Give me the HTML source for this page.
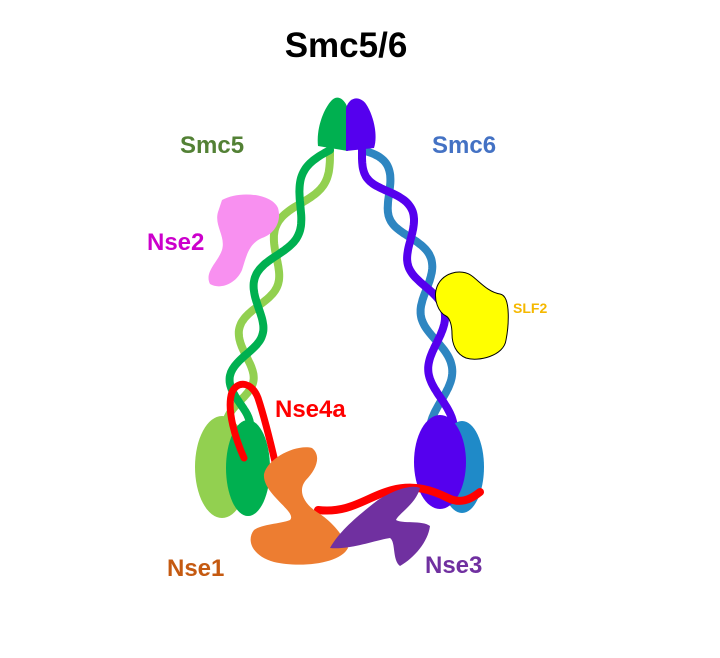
<!DOCTYPE html>
<html><head><meta charset="utf-8"><style>
html,body{margin:0;padding:0;background:#fff;}
svg{display:block;}
text{font-family:"Liberation Sans",Arial,sans-serif;font-weight:bold;}
</style></head><body>
<svg id="s" width="720" height="658" viewBox="0 0 720 658" xmlns="http://www.w3.org/2000/svg">
<rect width="720" height="658" fill="#fff"/>
<text x="346" y="57" font-size="35" text-anchor="middle" fill="#000">Smc5/6</text>
<text x="180" y="153" font-size="24" fill="#538135">Smc5</text>
<text x="432" y="153" font-size="24" fill="#4472c4">Smc6</text>
<text x="147" y="250" font-size="24" fill="#cc00cc">Nse2</text>
<text x="513" y="313" font-size="14" fill="#f5b800">SLF2</text>
<text x="275" y="417" font-size="24" fill="#ff0000">Nse4a</text>
<text x="167" y="576" font-size="24" fill="#c55a11">Nse1</text>
<text x="425" y="573" font-size="24" fill="#7030a0">Nse3</text>
<g id="arms"></g>
<!-- heads -->
<path d="M318,146 C316,128 324,108 332,100 C338,94 346,100 348,110 L348,151 Z" fill="#00b050"/>
<path d="M346,151 L346,108 C350,96 360,96 366,104 C374,116 378,136 374,148 Z" fill="#5500ee"/>
<!-- Nse2 -->
<path d="M222,200 C240,190 272,194 278,208 C282,222 274,234 262,238 C248,244 246,258 242,270 C236,284 220,290 210,284 C204,272 218,262 222,250 C226,236 214,226 218,212 Z" fill="#f890f0"/>
<!-- SLF2 -->
<path d="M436,290 C440,272 462,268 472,276 C480,282 488,292 500,294 C512,296 508,330 506,340 C504,356 478,362 466,358 C456,354 452,344 452,334 C452,326 450,318 446,316 C438,312 434,300 436,290 Z" fill="#ffff00" stroke="#000" stroke-width="1"/>
<!-- left ovals -->
<ellipse cx="222" cy="467" rx="27" ry="51" fill="#92d050"/>
<ellipse cx="248" cy="468" rx="22" ry="48" fill="#00b050"/>
<!-- right ovals -->
<ellipse cx="462" cy="467" rx="22" ry="46" fill="#1f8ac8"/>
<ellipse cx="440" cy="462" rx="26" ry="47" fill="#5500ee"/>
<!-- Nse4a -->
<path d="M244,458 C236,440 226,410 232,392 C238,380 252,382 258,398 C264,416 270,440 276,466" fill="none" stroke="#ff0000" stroke-width="7" stroke-linecap="round"/>
<path d="M318,510 C350,514 368,496 392,490 C414,484 432,490 448,498 C460,504 470,500 480,492" fill="none" stroke="#ff0000" stroke-width="8" stroke-linecap="round"/>
<!-- Nse1 -->
<path d="M264,474 C268,458 296,444 312,448 C322,456 316,470 306,480 C296,492 306,506 320,514 C332,522 344,536 348,548 C340,564 300,568 274,562 C252,556 246,540 254,530 C262,524 280,524 290,520 C298,512 262,494 264,474 Z" fill="#ed7d31"/>
<!-- Nse3 -->
<path d="M330,548 C340,530 360,514 378,500 C394,490 412,484 420,488 C416,504 398,514 396,520 C402,524 422,520 430,526 C428,542 414,558 400,566 C392,560 396,542 390,538 C376,540 350,550 330,548 Z" fill="#7030a0"/>
</svg>
<script>
function arm(P0,C,P2,n,A,c1,c2,g){
 function p(sg){var d="";for(var i=0;i<=160;i++){var t=i/160,u=1-t;
  var x=u*u*P0[0]+2*u*t*C[0]+t*t*P2[0],y=u*u*P0[1]+2*u*t*C[1]+t*t*P2[1];
  var dx=2*u*(C[0]-P0[0])+2*t*(P2[0]-C[0]),dy=2*u*(C[1]-P0[1])+2*t*(P2[1]-C[1]),L=Math.hypot(dx,dy);
  var o=sg*A*Math.sin(Math.PI*n*t);x+=-dy/L*o;y+=dx/L*o;
  d+=(i?"L":"M")+x.toFixed(1)+","+y.toFixed(1);}return d;}
 [[c2,-1],[c1,1]].forEach(function(a){var e=document.createElementNS("http://www.w3.org/2000/svg","path");e.setAttribute("d",p(a[1]));e.setAttribute("fill","none");e.setAttribute("stroke",a[0]);e.setAttribute("stroke-width","8");e.setAttribute("stroke-linecap","round");g.appendChild(e);});
}
var g=document.getElementById("arms");
arm([330,150],[240,300],[238,425],5.5,12,"#00b050","#92d050",g);
arm([362,150],[445,260],[442,430],5.5,12,"#5500ee","#2e86c1",g);
</script>
</body></html>
